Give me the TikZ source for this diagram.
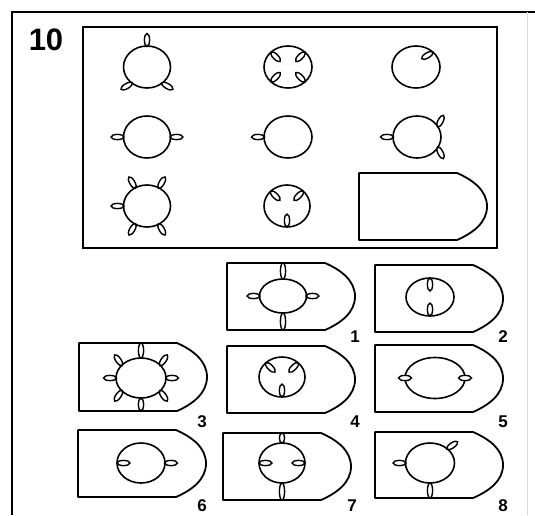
\documentclass[tikz,border=0pt]{standalone}
\usepackage{fontspec}
\setmainfont{Liberation Sans}
\tikzset{
  frameline/.style={line width=1.4pt},
  boxline/.style={line width=2pt},
  shp/.style={line width=1.8pt, line join=round},
  ring/.style={line width=1.6pt},
  petal/.style={line width=1.4pt, fill=white},
  lbl/.style={font=\fontsize{17}{17}\selectfont\bfseries, inner sep=0pt},
  biglbl/.style={font=\fontsize{31}{31}\selectfont\bfseries, inner sep=0pt},
}
% shield-shaped box: left x, top y, bottom y
\newcommand{\Shield}[3]{\draw[shp] (#1,#2) -- ({#1+98},#2)
  .. controls ({#1+114},{#2+7}) and ({#1+128},{(#2+#3)/2-16}) .. ({#1+128},{(#2+#3)/2})
  .. controls ({#1+128},{(#2+#3)/2+16}) and ({#1+114},{#3-7}) .. ({#1+98},#3)
  -- (#1,#3) -- cycle;}
% ring: cx cy rx ry
\newcommand{\Ring}[4]{\draw[ring] (#1,#2) ellipse [x radius=#3, y radius=#4];}
% petal: cx cy rx ry attach-angle orientation offset
\newcommand{\Pet}[7]{\draw[petal, shift={({#1+#3*cos(#5)+#7*cos(#6)},{#2+#4*sin(#5)+#7*sin(#6)})}, rotate=-#6] (0,0) ellipse [x radius=6.5, y radius=2.6];}
% vertical petal spanning from y1 to y2 at x
\newcommand{\VPet}[3]{\draw[petal] (#1,{(#2+#3)/2}) ellipse [x radius=2.6, y radius={(#3-#2)/2}];}
\begin{document}
\begin{tikzpicture}[x=1pt,y=-1pt]
\useasboundingbox (0,0) rectangle (535,515);
% outer frame
\draw[frameline] (12,515) -- (12,12) -- (535,12);
\draw[line width=0.6pt, gray!30] (527,12) -- (527,515);
\node[biglbl] (ten) at (46,40) {10};
% matrix box
\draw[boxline] (83,27) rectangle (497,248);
% row 1
\Ring{147}{67}{23.5}{21}
\Pet{147}{67}{23.5}{21}{270}{270}{6}
\Pet{147}{67}{23.5}{21}{130}{150}{6}
\Pet{147}{67}{23.5}{21}{50}{30}{6}
\Ring{288}{67}{24}{21}
\Pet{288}{67}{24}{21}{45}{225}{6.5}
\Pet{288}{67}{24}{21}{135}{315}{6.5}
\Pet{288}{67}{24}{21}{225}{45}{6.5}
\Pet{288}{67}{24}{21}{315}{135}{6.5}
\Ring{416}{67}{24}{21}
\Pet{416}{67}{24}{21}{315}{150}{6.5}
% row 2
\Ring{147}{137}{23.5}{21}
\Pet{147}{137}{23.5}{21}{0}{0}{6}
\Pet{147}{137}{23.5}{21}{180}{180}{6}
\Ring{288}{137}{24}{21}
\Pet{288}{137}{24}{21}{180}{180}{6}
\Ring{417}{137}{24}{21}
\Pet{417}{137}{24}{21}{180}{180}{6}
\Pet{417}{137}{24}{21}{330}{297}{6}
\Pet{417}{137}{24}{21}{30}{63}{6}
% row 3
\Ring{147}{206}{23.5}{21}
\Pet{147}{206}{23.5}{21}{180}{180}{6}
\Pet{147}{206}{23.5}{21}{240}{240}{6}
\Pet{147}{206}{23.5}{21}{300}{300}{6}
\Pet{147}{206}{23.5}{21}{120}{120}{6}
\Pet{147}{206}{23.5}{21}{60}{60}{6}
\Ring{287}{206}{23}{21}
\Pet{287}{206}{23}{21}{225}{45}{6.5}
\Pet{287}{206}{23}{21}{315}{135}{6.5}
\Pet{287}{206}{23}{21}{90}{270}{6.5}
\Shield{359}{173}{240}
% answer 1
\Shield{227}{263}{330}
\Ring{283}{296}{23.5}{17}
\VPet{283}{263}{279}
\VPet{283}{313}{330}
\Pet{283}{296}{23.5}{17}{180}{180}{6}
\Pet{283}{296}{23.5}{17}{0}{0}{6}
\node[lbl] (n1) at (355,337) {1};
% answer 2
\Shield{375}{265}{332}
\Ring{430}{297}{24}{19}
\Pet{430}{297}{24}{19}{270}{90}{6.5}
\Pet{430}{297}{24}{19}{90}{270}{6.5}
\node[lbl] (n2) at (503,337) {2};
% answer 3
\Shield{79}{343}{411}
\Ring{141}{378}{25}{20}
\VPet{141}{343}{358}
\VPet{141}{398}{411}
\Pet{141}{378}{25}{20}{0}{0}{6}
\Pet{141}{378}{25}{20}{180}{180}{6}
\Pet{141}{378}{25}{20}{220}{235}{6}
\Pet{141}{378}{25}{20}{320}{305}{6}
\Pet{141}{378}{25}{20}{140}{125}{6}
\Pet{141}{378}{25}{20}{40}{55}{6}
\node[lbl] (n3) at (202,422) {3};
% answer 4
\Shield{227}{346}{413}
\Ring{282}{377}{23}{20}
\Pet{282}{377}{23}{20}{225}{45}{6.5}
\Pet{282}{377}{23}{20}{315}{135}{6.5}
\Pet{282}{377}{23}{20}{90}{270}{6.5}
\node[lbl] (n4) at (355,422) {4};
% answer 5
\Shield{375}{345}{412}
\Ring{435}{378}{30}{20.5}
\Pet{435}{378}{30}{20.5}{180}{180}{0}
\Pet{435}{378}{30}{20.5}{0}{0}{0}
\node[lbl] (n5) at (503,422) {5};
% answer 6
\Shield{78}{430}{497}
\Ring{141}{463}{24}{20}
\Pet{141}{463}{24}{20}{180}{0}{6.5}
\Pet{141}{463}{24}{20}{0}{0}{6}
\node[lbl] (n6) at (202,506) {6};
% answer 7
\Shield{223}{433}{500}
\Ring{282}{463}{23}{20}
\VPet{282}{433}{443}
\VPet{282}{483}{500}
\Pet{282}{463}{23}{20}{180}{0}{6.5}
\Pet{282}{463}{23}{20}{0}{180}{6.5}
\node[lbl] (n7) at (352,506) {7};
% answer 8
\Shield{375}{432}{498}
\Ring{430}{463}{24.5}{20}
\VPet{430}{483}{498}
\Pet{430}{463}{24.5}{20}{180}{180}{6}
\Pet{430}{463}{24.5}{20}{315}{325}{6}
\node[lbl] (n8) at (503,506) {8};
\end{tikzpicture}
\end{document}
